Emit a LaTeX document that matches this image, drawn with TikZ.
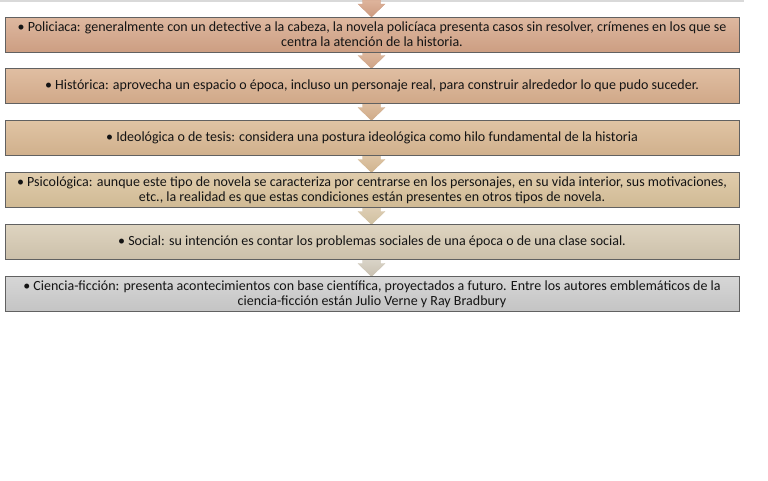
\documentclass[tikz,border=0pt]{standalone}
\usepackage{fontspec}
\setmainfont{Carlito}
\usetikzlibrary{calc}
\definecolor{a1t}{RGB}{222,180,156}\definecolor{a1b}{RGB}{205,155,128}
\definecolor{a2t}{RGB}{222,184,158}\definecolor{a2b}{RGB}{207,163,133}
\definecolor{a3t}{RGB}{222,190,160}\definecolor{a3b}{RGB}{207,170,135}
\definecolor{a4t}{RGB}{222,196,165}\definecolor{a4b}{RGB}{208,180,142}
\definecolor{a5t}{RGB}{222,206,180}\definecolor{a5b}{RGB}{208,192,160}
\definecolor{a6t}{RGB}{218,212,200}\definecolor{a6b}{RGB}{200,192,176}
\definecolor{b1t}{RGB}{222,184,160}\definecolor{b1b}{RGB}{204,158,130}
\definecolor{b2t}{RGB}{224,190,162}\definecolor{b2b}{RGB}{208,168,136}
\definecolor{b3t}{RGB}{224,196,164}\definecolor{b3b}{RGB}{208,176,140}
\definecolor{b4t}{RGB}{224,204,172}\definecolor{b4b}{RGB}{208,186,148}
\definecolor{b5t}{RGB}{222,212,192}\definecolor{b5b}{RGB}{204,192,170}
\definecolor{b6t}{RGB}{214,214,214}\definecolor{b6b}{RGB}{196,196,196}
\tikzset{
  box/.style={draw=black!62, line width=0.9pt, minimum width=734pt, minimum height=35pt,
    inner sep=0pt, align=center, text=black!92, font=\fontsize{14}{15}\selectfont},
}
\newcommand{\blkarrow}[4]{% from, to, top color, bottom color
  \path[top color=#3, bottom color=#4, draw=#4, line width=0.3pt]
    ($(#1)+(-9,0)$) -- ($(#1)+(9,0)$) -- ($(#2)+(9,-13)$) -- ($(#2)+(13.5,-13)$)
    -- (#2) -- ($(#2)+(-13.5,-13)$) -- ($(#2)+(-9,-13)$) -- cycle;}
\begin{document}
\begin{tikzpicture}[x=1pt,y=-1pt]
\useasboundingbox[fill=white] (0,0) rectangle (768,480);
\draw[color=black!15, line width=1.5pt] (0,1) -- (744,1);
\coordinate (start) at (371.5,0);
\path (372,34.5) coordinate (c1) (372,86) coordinate (c2) (372,138) coordinate (c3)
      (372,190) coordinate (c4) (372,242) coordinate (c5) (372,294) coordinate (c6);
\coordinate (t1) at ($(c1)+(-0.5,-17.5)$);
\coordinate (s1) at ($(c1)+(-0.5,17.5)$);
\coordinate (t2) at ($(c2)+(-0.5,-17.5)$);
\coordinate (s2) at ($(c2)+(-0.5,17.5)$);
\coordinate (t3) at ($(c3)+(-0.5,-17.5)$);
\coordinate (s3) at ($(c3)+(-0.5,17.5)$);
\coordinate (t4) at ($(c4)+(-0.5,-17.5)$);
\coordinate (s4) at ($(c4)+(-0.5,17.5)$);
\coordinate (t5) at ($(c5)+(-0.5,-17.5)$);
\coordinate (s5) at ($(c5)+(-0.5,17.5)$);
\coordinate (t6) at ($(c6)+(-0.5,-17.5)$);
\blkarrow{start}{t1}{a1t}{a1b}
\blkarrow{s1}{t2}{a2t}{a2b}
\blkarrow{s2}{t3}{a3t}{a3b}
\blkarrow{s3}{t4}{a4t}{a4b}
\blkarrow{s4}{t5}{a5t}{a5b}
\blkarrow{s5}{t6}{a6t}{a6b}
\node[box, top color=b1t, bottom color=b1b] (b1) at (c1)
  {\textbullet\ Policiaca: generalmente con un detective a la cabeza, la novela policíaca presenta casos sin resolver, crímenes en los que se\\ centra la atención de la historia.};
\node[box, top color=b2t, bottom color=b2b] (b2) at (c2)
  {\textbullet\ Histórica: aprovecha un espacio o época, incluso un personaje real, para construir alrededor lo que pudo suceder.};
\node[box, top color=b3t, bottom color=b3b] (b3) at (c3)
  {\textbullet\ Ideológica o de tesis: considera una postura ideológica como hilo fundamental de la historia};
\node[box, top color=b4t, bottom color=b4b] (b4) at (c4)
  {\textbullet\ Psicológica: aunque este tipo de novela se caracteriza por centrarse en los personajes, en su vida interior, sus motivaciones,\\ etc., la realidad es que estas condiciones están presentes en otros tipos de novela.};
\node[box, top color=b5t, bottom color=b5b] (b5) at (c5)
  {\textbullet\ Social: su intención es contar los problemas sociales de una época o de una clase social.};
\node[box, top color=b6t, bottom color=b6b] (b6) at (c6)
  {\textbullet\ Ciencia-ficción: presenta acontecimientos con base científica, proyectados a futuro. Entre los autores emblemáticos de la\\ ciencia-ficción están Julio Verne y Ray Bradbury};
\end{tikzpicture}
\end{document}
